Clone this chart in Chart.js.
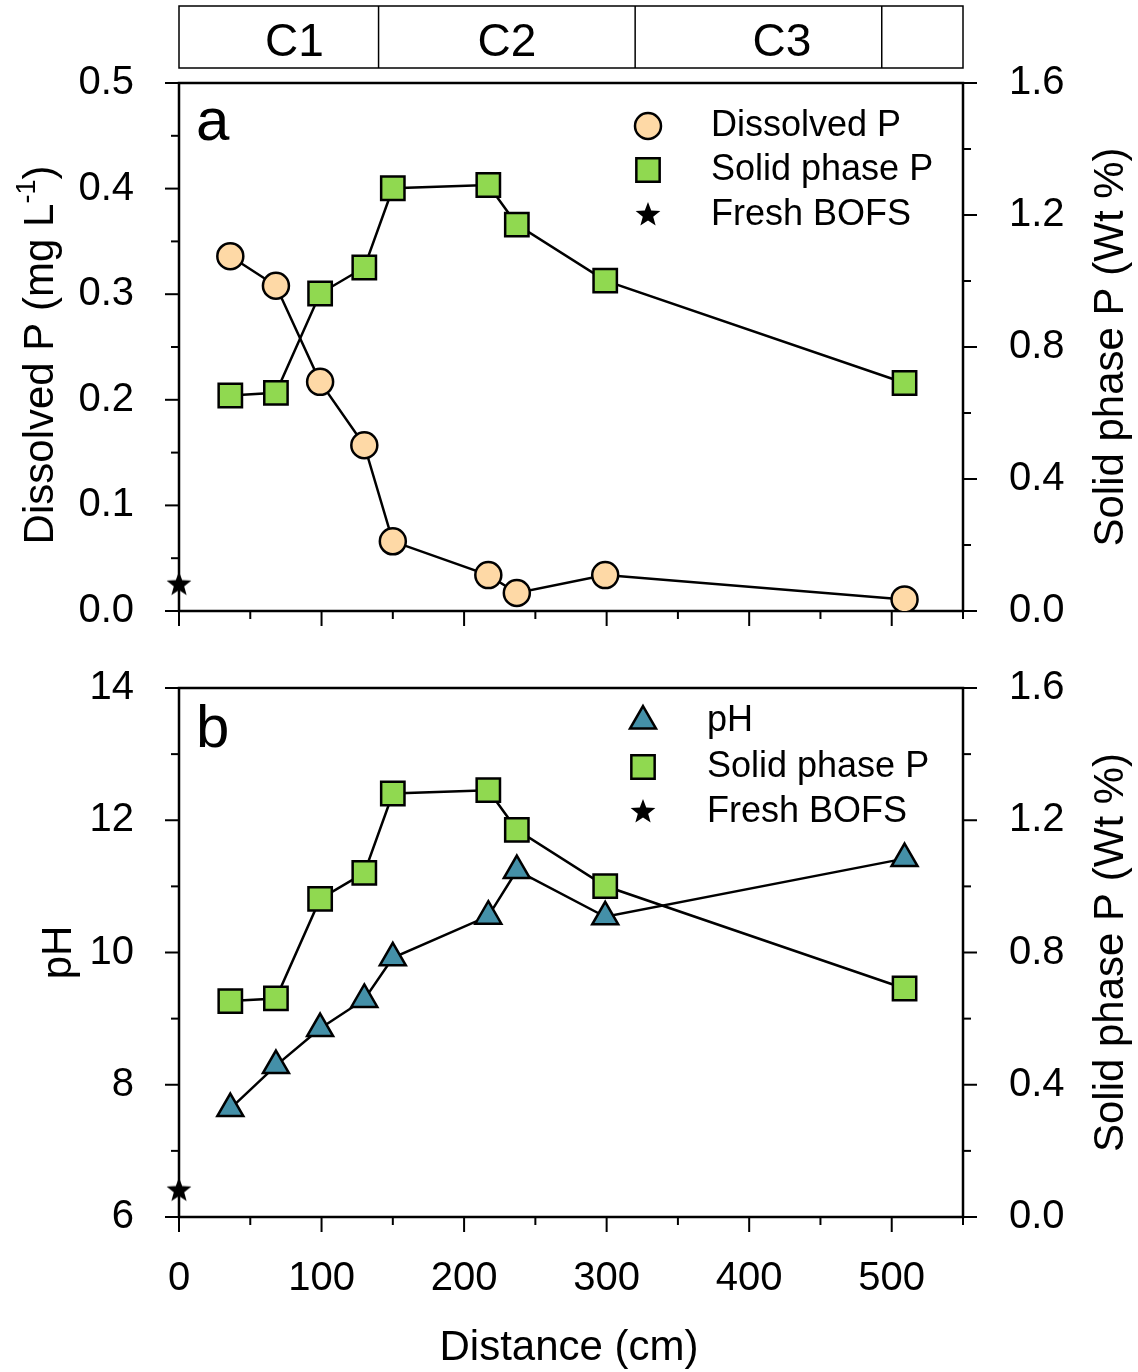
<!DOCTYPE html>
<html>
<head>
<meta charset="utf-8">
<script src="https://cdn.jsdelivr.net/npm/chart.js"></script>
<style>
  body { margin: 0; background: #fff; }
  #wrap { position: relative; width: 1138px; height: 1372px; }
  canvas { position: absolute; left: 0; }
</style>
</head>
<body>
<div id="wrap">
  <canvas id="chartA" width="1138" height="650" style="top:0"></canvas>
  <canvas id="chartB" width="1138" height="722" style="top:650px"></canvas>
</div>
<script>
// distance from the slag source (cm)
const distance = [36, 68, 99, 130, 150, 217, 237, 299, 509];
const dissolvedP = [0.336, 0.308, 0.217, 0.157, 0.066, 0.034, 0.017, 0.034, 0.011];
const solidP = [0.653, 0.661, 0.962, 1.041, 1.281, 1.291, 1.171, 1.001, 0.691];
const pH = [7.64, 8.29, 8.85, 9.29, 9.92, 10.55, 11.24, 10.54, 11.42];
const freshDissolvedP = 0.025;
const freshPH = 6.4;

// zones along the top
const zoneEdges = [0, 140, 320, 493, 550];
const zoneNames = ['C1', 'C2', 'C3'];
const zoneLabelAt = [81, 230, 423];

// axis ticks
const xTicks = [0, 100, 200, 300, 400, 500];
const xMinor = [50, 150, 250, 350, 450, 550];
const dpTicks = [0, 0.1, 0.2, 0.3, 0.4, 0.5];
const dpMinor = [0.05, 0.15, 0.25, 0.35, 0.45];
const spTicks = [0, 0.4, 0.8, 1.2, 1.6];
const spMinor = [0.2, 0.6, 1.0, 1.4];
const phTicks = [6, 8, 10, 12, 14];
const phMinor = [7, 9, 11, 13];

const ink = '#000';
const peach = '#fed9a6';
const green = '#90d950';
const teal = '#4490a8';
const FONT = '"Liberation Sans", Arial, sans-serif';

function makeStar(r) {
  const c = document.createElement('canvas');
  c.width = c.height = Math.ceil(r * 2 + 2);
  const g = c.getContext('2d');
  const cx = c.width / 2, cy = c.height / 2;
  g.beginPath();
  for (let i = 0; i < 10; i++) {
    const rr = i % 2 ? r * 0.42 : r;
    const a = -Math.PI / 2 + i * Math.PI / 5;
    g.lineTo(cx + rr * Math.cos(a), cy + rr * Math.sin(a));
  }
  g.closePath();
  g.fillStyle = ink;
  g.fill();
  return c;
}
const star = makeStar(13);

const pts = (xs, ys) => xs.map((x, i) => ({ x: x, y: ys[i] }));
const setTicks = arr => s => { s.ticks = arr.map(v => ({ value: v })); };

function series(label, ys, axis, style, fill, radius) {
  return {
    label: label, data: pts(distance, ys), yAxisID: axis,
    borderColor: ink, borderWidth: 2.5, fill: false, tension: 0,
    pointStyle: style, pointRadius: radius, pointBackgroundColor: fill,
    pointBorderColor: ink, pointBorderWidth: 2.5
  };
}
function fresh(y, axis) {
  return {
    label: 'Fresh BOFS', data: [{ x: 0, y: y }], yAxisID: axis, showLine: false,
    pointStyle: star, pointRadius: 13, pointBorderWidth: 0, clip: false
  };
}

// frame, outward major/minor ticks, titles, legend, panel letter, zone band
const decor = {
  id: 'decor',
  beforeDatasetsDraw(chart, args, o) {
    const ctx = chart.ctx, a = chart.chartArea;
    const x = chart.scales.x, yl = chart.scales.yL, yr = chart.scales.yR;
    ctx.save();
    ctx.strokeStyle = ink;
    ctx.lineWidth = 2;
    const tk = (scale, vals, len, side) => vals.forEach(v => {
      const p = scale.getPixelForValue(v);
      ctx.beginPath();
      if (side === 'b') { ctx.moveTo(p, a.bottom); ctx.lineTo(p, a.bottom + len); }
      else if (side === 'l') { ctx.moveTo(a.left, p); ctx.lineTo(a.left - len, p); }
      else { ctx.moveTo(a.right, p); ctx.lineTo(a.right + len, p); }
      ctx.stroke();
    });
    tk(x, xTicks, 15, 'b'); tk(x, xMinor, 8, 'b');
    tk(yl, o.leftTicks, 14, 'l'); tk(yl, o.leftMinor, 8, 'l');
    tk(yr, spTicks, 14, 'r'); tk(yr, spMinor, 8, 'r');
    ctx.lineWidth = 2.5;
    ctx.strokeRect(a.left, a.top, a.right - a.left, a.bottom - a.top);
    ctx.restore();
  },
  afterDraw(chart, args, o) {
    const ctx = chart.ctx, a = chart.chartArea;
    ctx.save();
    ctx.fillStyle = ink;
    ctx.strokeStyle = ink;

    // panel letter
    ctx.font = '60px ' + FONT;
    ctx.textAlign = 'left';
    ctx.textBaseline = 'alphabetic';
    ctx.fillText(o.letter, a.left + 17, a.top + o.letterBase);

    // legend
    ctx.font = '36px ' + FONT;
    ctx.textBaseline = 'middle';
    o.legend.forEach((item, i) => {
      const ds = chart.data.datasets[item];
      const y = o.legendRows[i];
      ctx.fillStyle = ds.pointBackgroundColor || ink;
      ctx.lineWidth = 2.5;
      Chart.helpers.drawPoint(ctx, {
        pointStyle: ds.pointStyle, radius: ds.pointRadius,
        borderWidth: ds.pointBorderWidth, rotation: 0
      }, o.legendX, y);
      ctx.fillStyle = ink;
      ctx.fillText(ds.label, o.legendTextX, y);
    });

    // y titles, both reading bottom-to-top
    const cy = (a.top + a.bottom) / 2;
    ctx.textBaseline = 'alphabetic';
    const sup = '27px ' + FONT, big = '42px ' + FONT;
    ctx.save();
    ctx.translate(o.leftTitleX, cy + o.leftTitleDy);
    ctx.rotate(-Math.PI / 2);
    const parts = o.leftTitle;
    ctx.font = big; const w0 = ctx.measureText(parts[0]).width;
    ctx.font = sup; const w1 = parts[1] ? ctx.measureText(parts[1]).width : 0;
    ctx.font = big; const w2 = parts[2] ? ctx.measureText(parts[2]).width : 0;
    let sx = -(w0 + w1 + w2) / 2;
    ctx.textAlign = 'left';
    ctx.font = big; ctx.fillText(parts[0], sx, 0); sx += w0;
    if (parts[1]) { ctx.font = sup; ctx.fillText(parts[1], sx, -18); sx += w1; }
    if (parts[2]) { ctx.font = big; ctx.fillText(parts[2], sx, 0); }
    ctx.restore();

    ctx.save();
    ctx.font = big;
    ctx.textAlign = 'center';
    ctx.translate(1123, cy);
    ctx.rotate(-Math.PI / 2);
    ctx.fillText('Solid phase P (Wt %)', 0, 0);
    ctx.restore();

    // x title
    if (o.xTitle) {
      ctx.font = big;
      ctx.textAlign = 'center';
      ctx.fillText(o.xTitle, (a.left + a.right) / 2 - 2, o.xTitleBase);
    }

    // zone band
    if (o.band) {
      const x = chart.scales.x;
      const top = 6, bot = 68;
      ctx.lineWidth = 1.5;
      const x0 = x.getPixelForValue(zoneEdges[0]);
      const x1 = x.getPixelForValue(zoneEdges[zoneEdges.length - 1]);
      ctx.strokeRect(x0, top, x1 - x0, bot - top);
      zoneEdges.slice(1, -1).forEach(v => {
        const p = x.getPixelForValue(v);
        ctx.beginPath(); ctx.moveTo(p, top); ctx.lineTo(p, bot); ctx.stroke();
      });
      ctx.font = '46px ' + FONT;
      ctx.textAlign = 'center';
      ctx.textBaseline = 'middle';
      zoneNames.forEach((n, i) => ctx.fillText(n, x.getPixelForValue(zoneLabelAt[i]), 43));
    }
    ctx.restore();
  }
};

const tickFont = { family: FONT, size: 40 };
const noPad = s => { s.paddingTop = 0; s.paddingBottom = 0; s.paddingLeft = 0; s.paddingRight = 0; };

function baseScales(leftMin, leftMax, leftTicks, leftFmt, xHeight, showX) {
  return {
    x: {
      type: 'linear', min: 0, max: 550,
      afterBuildTicks: setTicks(xTicks),
      afterFit: s => { s.height = xHeight; noPad(s); },
      grid: { display: false }, border: { display: false },
      ticks: { display: showX, font: tickFont, color: ink, padding: 30 }
    },
    yL: {
      position: 'left', min: leftMin, max: leftMax,
      afterBuildTicks: setTicks(leftTicks),
      afterFit: s => { s.width = 179; noPad(s); },
      grid: { display: false }, border: { display: false },
      ticks: { font: tickFont, color: ink, padding: 37, callback: leftFmt }
    },
    yR: {
      position: 'right', min: 0, max: 1.6,
      afterBuildTicks: setTicks(spTicks),
      afterFit: s => { s.width = 175; noPad(s); },
      grid: { display: false }, border: { display: false },
      ticks: { font: tickFont, color: ink, padding: 38, callback: v => v.toFixed(1) }
    }
  };
}

new Chart(document.getElementById('chartA'), {
  type: 'line',
  data: {
    datasets: [
      series('Dissolved P', dissolvedP, 'yL', 'circle', peach, 13),
      series('Solid phase P', solidP, 'yR', 'rect', green, 16.5),
      fresh(freshDissolvedP, 'yL')
    ]
  },
  options: {
    responsive: false, animation: false, events: [],
    layout: { padding: { top: 83, left: 0, right: 0, bottom: 0 } },
    scales: baseScales(0, 0.5, dpTicks, v => v.toFixed(1), 39, false),
    plugins: {
      legend: { display: false }, tooltip: { enabled: false },
      decor: {
        letter: 'a', letterBase: 57, band: true,
        leftTicks: dpTicks, leftMinor: dpMinor,
        legend: [0, 1, 2], legendRows: [126, 170, 215], legendX: 648, legendTextX: 711,
        leftTitle: ['Dissolved P (mg L', '-1', ')'], leftTitleX: 53, leftTitleDy: 8
      }
    }
  },
  plugins: [decor]
});

new Chart(document.getElementById('chartB'), {
  type: 'line',
  data: {
    datasets: [
      series('pH', pH, 'yL', 'triangle', teal, 15),
      series('Solid phase P', solidP, 'yR', 'rect', green, 16.5),
      fresh(freshPH, 'yL')
    ]
  },
  options: {
    responsive: false, animation: false, events: [],
    layout: { padding: { top: 38, left: 0, right: 0, bottom: 0 } },
    scales: baseScales(6, 14, phTicks, v => String(v), 155, true),
    plugins: {
      legend: { display: false }, tooltip: { enabled: false },
      decor: {
        letter: 'b', letterBase: 59, band: false,
        leftTicks: phTicks, leftMinor: phMinor,
        legend: [0, 1, 2], legendRows: [71, 117, 162], legendX: 643, legendTextX: 707,
        leftTitle: ['pH'], leftTitleX: 71, leftTitleDy: 0,
        xTitle: 'Distance (cm)', xTitleBase: 710
      }
    }
  },
  plugins: [decor]
});
</script>
</body>
</html>
